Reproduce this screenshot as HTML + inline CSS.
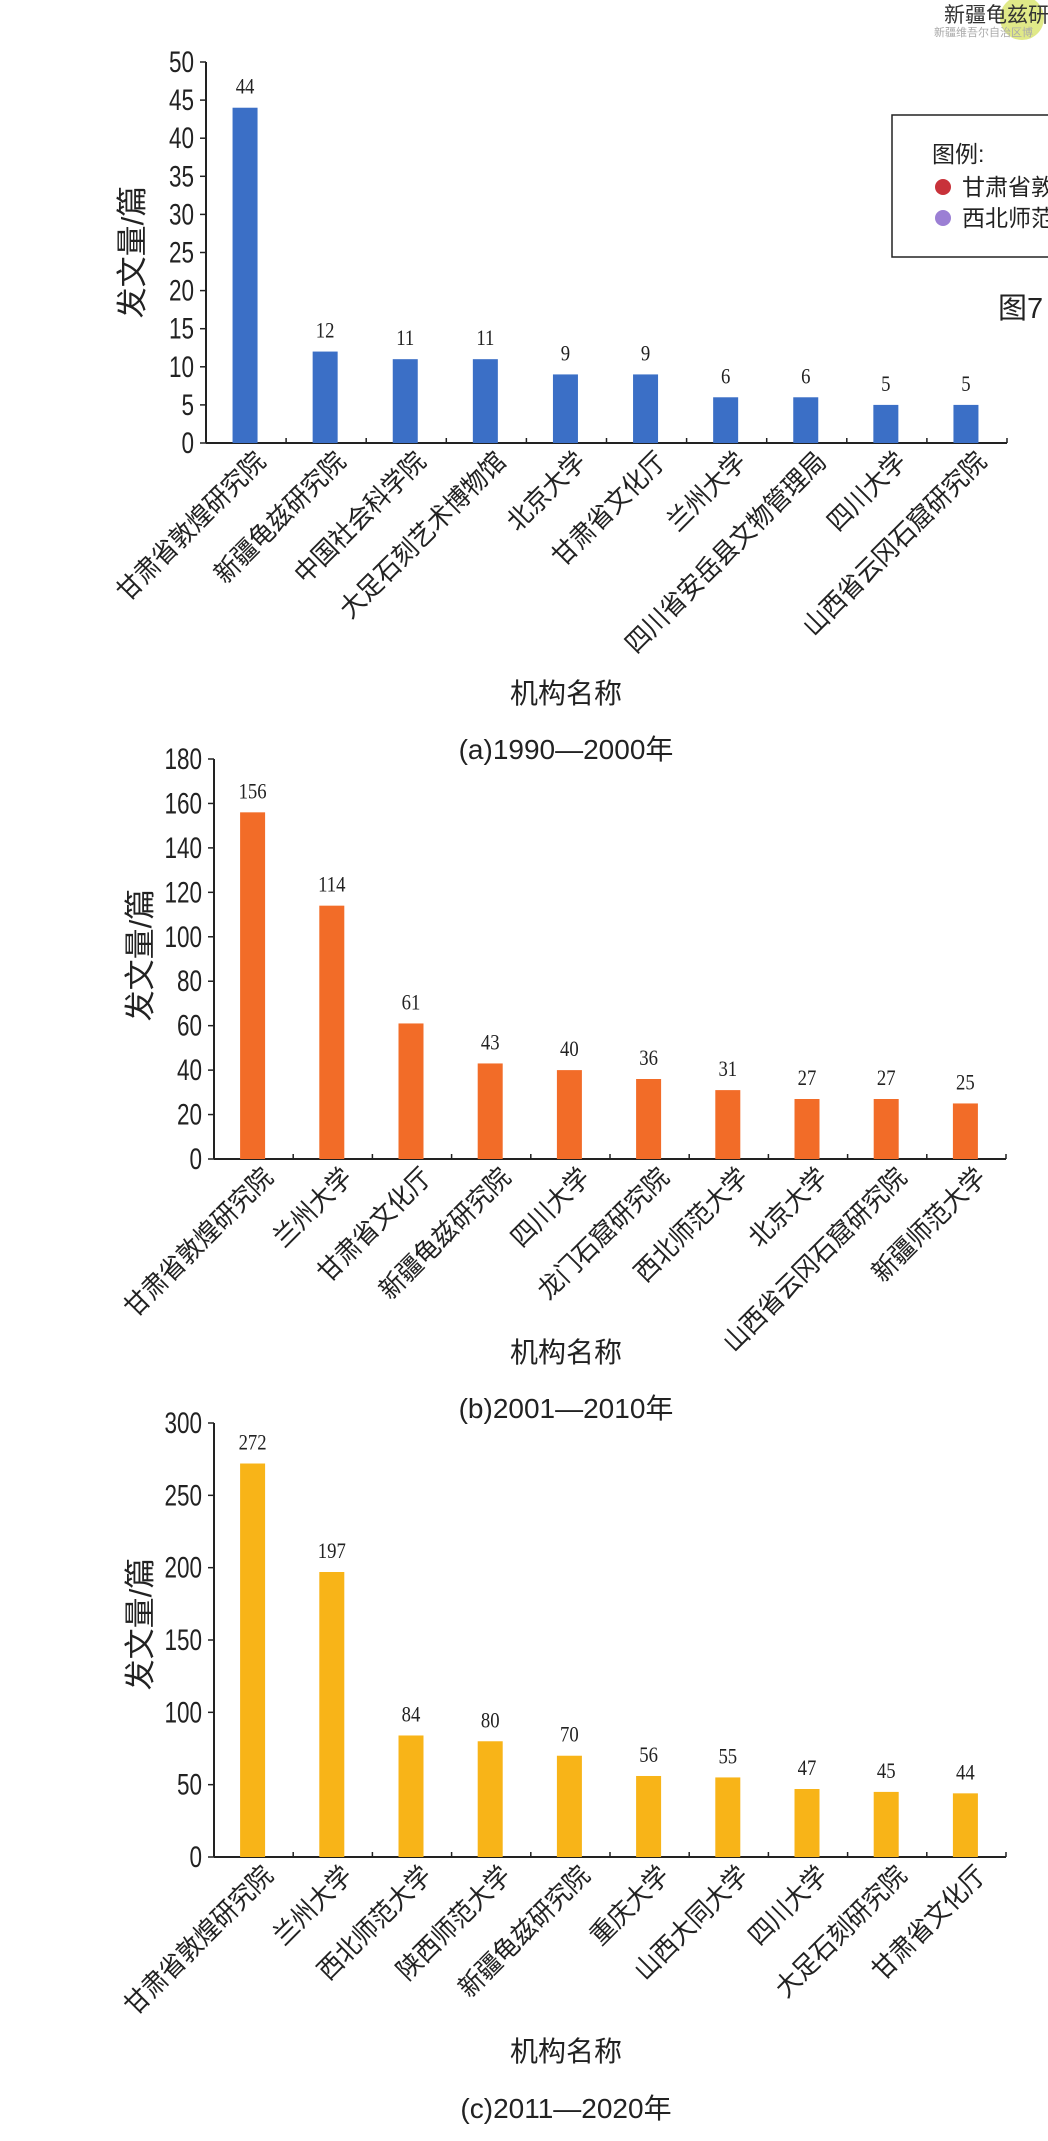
<!DOCTYPE html>
<html><head><meta charset="utf-8">
<style>
html,body{margin:0;padding:0;background:#fff;}
svg{display:block;}
text{font-family:"Liberation Sans","Noto Sans CJK SC",sans-serif;}
text.serif{font-family:"Liberation Serif","Noto Serif CJK SC",serif;}
</style></head>
<body>
<svg id="fig" width="1048" height="2141" viewBox="0 0 1048 2141" xmlns="http://www.w3.org/2000/svg">
  <g>
    <circle cx="1022" cy="18" r="22" fill="#d8e36a" opacity="0.8"/>
    <text x="944" y="22" font-size="21" fill="#333">新疆龟兹研</text>
    <text x="934" y="36" font-size="11" fill="#aaa">新疆维吾尔自治区博</text>
  </g>
  <g>
    <rect x="892" y="115" width="170" height="142" fill="#fff" stroke="#222" stroke-width="1.5"/>
    <text x="932" y="162" font-size="23" fill="#222">图例:</text>
    <circle cx="943" cy="187" r="8" fill="#c8323a"/>
    <text x="962" y="195" font-size="23" fill="#222">甘肃省敦</text>
    <circle cx="943" cy="218" r="8" fill="#9b7fd4"/>
    <text x="962" y="226" font-size="23" fill="#222">西北师范</text>
  </g>
  <text x="998" y="318" font-size="29" fill="#222">图7</text>
</svg>
<script>
const catsA = ["甘肃省敦煌研究院","新疆龟兹研究院","中国社会科学院","大足石刻艺术博物馆","北京大学","甘肃省文化厅","兰州大学","四川省安岳县文物管理局","四川大学","山西省云冈石窟研究院"];
const valsA = [44,12,11,11,9,9,6,6,5,5];
const ticksA = [0,5,10,15,20,25,30,35,40,45,50];

const catsB = ["甘肃省敦煌研究院","兰州大学","甘肃省文化厅","新疆龟兹研究院","四川大学","龙门石窟研究院","西北师范大学","北京大学","山西省云冈石窟研究院","新疆师范大学"];
const valsB = [156,114,61,43,40,36,31,27,27,25];
const ticksB = [0,20,40,60,80,100,120,140,160,180];

const catsC = ["甘肃省敦煌研究院","兰州大学","西北师范大学","陕西师范大学","新疆龟兹研究院","重庆大学","山西大同大学","四川大学","大足石刻研究院","甘肃省文化厅"];
const valsC = [272,197,84,80,70,56,55,47,45,44];
const ticksC = [0,50,100,150,200,250,300];

const NS = "http://www.w3.org/2000/svg";
const svg = document.getElementById("fig");
function mk(tag, attrs, parent, txt){
  const e = document.createElementNS(NS, tag);
  for (const k in attrs) e.setAttribute(k, attrs[k]);
  if (txt !== undefined) e.textContent = txt;
  parent.appendChild(e);
  return e;
}

function drawChart(id, cats, vals, ticks, color, layout, caption){
  const g = mk("g", {}, svg);
  
  
  const {x0, x1, y0, yTop} = layout;
  const maxT = ticks[ticks.length-1];
  const yS = v => y0 - (v/maxT)*(y0-yTop);
  const band = (x1 - x0) / cats.length;
  const xS = i => x0 + band*(i+0.5) - 1;

  const ya = mk("line", {x1:x0,y1:yTop,x2:x0,y2:y0,stroke:"#222","stroke-width":2}, g);
  
  
  ticks.forEach(t=>{
    const y = yS(t);
    mk("line",{x1:x0-6,y1:y,x2:x0,y2:y,stroke:"#222","stroke-width":1.5},g);
    const tl = mk("text",{x:0,y:0,"font-size":30,fill:"#222","text-anchor":"end",transform:`translate(${x0-12},${y+10}) scale(0.75,1)`},g,String(t));
    
    
  });
  const xa = mk("line",{x1:x0,y1:y0,x2:x1,y2:y0,stroke:"#222","stroke-width":2},g);
  
  
  for(let i=1;i<=cats.length;i++){
    const x = x0 + band*i;
    mk("line",{x1:x,y1:y0-5,x2:x,y2:y0,stroke:"#222","stroke-width":1.5},g);
  }
  cats.forEach((c,i)=>{
    const cx = xS(i), y = yS(vals[i]);
    const b = mk("rect",{x:cx-12.5,y:y,width:25,height:y0-y,fill:color},g);
    
    
    const vl = mk("text",{x:0,y:0,"font-size":22,fill:"#222","text-anchor":"middle","class":"serif",transform:`translate(${cx},${y-14}) scale(0.85,1)`},g,String(vals[i]));
    
    
    const cl = mk("text",{x:0,y:0,"font-size":26.5,fill:"#222","text-anchor":"end",transform:`translate(${cx+22},${y0+20}) rotate(-45) scale(0.93,1)`},g,c);
    
    
  });
  const yt = mk("text",{x:0,y:0,"font-size":31,fill:"#222","text-anchor":"middle",transform:`translate(${x0-63},${layout.yTitle}) rotate(-90)`},g,"发文量/篇");
  
  
  const xt = mk("text",{x:566,y:layout.xTitle,"font-size":28,fill:"#222","text-anchor":"middle"},g,"机构名称");
  
  
  const cp = mk("text",{x:566,y:layout.cap,"font-size":28,fill:"#222","text-anchor":"middle"},g,caption);
  
  
}

drawChart("chart-1990-2000", catsA, valsA, ticksA, "#3b6fc6",
  {x0:206,x1:1007,y0:443,yTop:62,yTitle:252,xTitle:703,cap:759}, "(a)1990—2000年");
drawChart("chart-2001-2010", catsB, valsB, ticksB, "#f26c28",
  {x0:214,x1:1006,y0:1159,yTop:759,yTitle:955,xTitle:1362,cap:1418}, "(b)2001—2010年");
drawChart("chart-2011-2020", catsC, valsC, ticksC, "#f8b418",
  {x0:214,x1:1006,y0:1857,yTop:1423,yTitle:1624,xTitle:2061,cap:2118}, "(c)2011—2020年");
</script>
</body></html>
